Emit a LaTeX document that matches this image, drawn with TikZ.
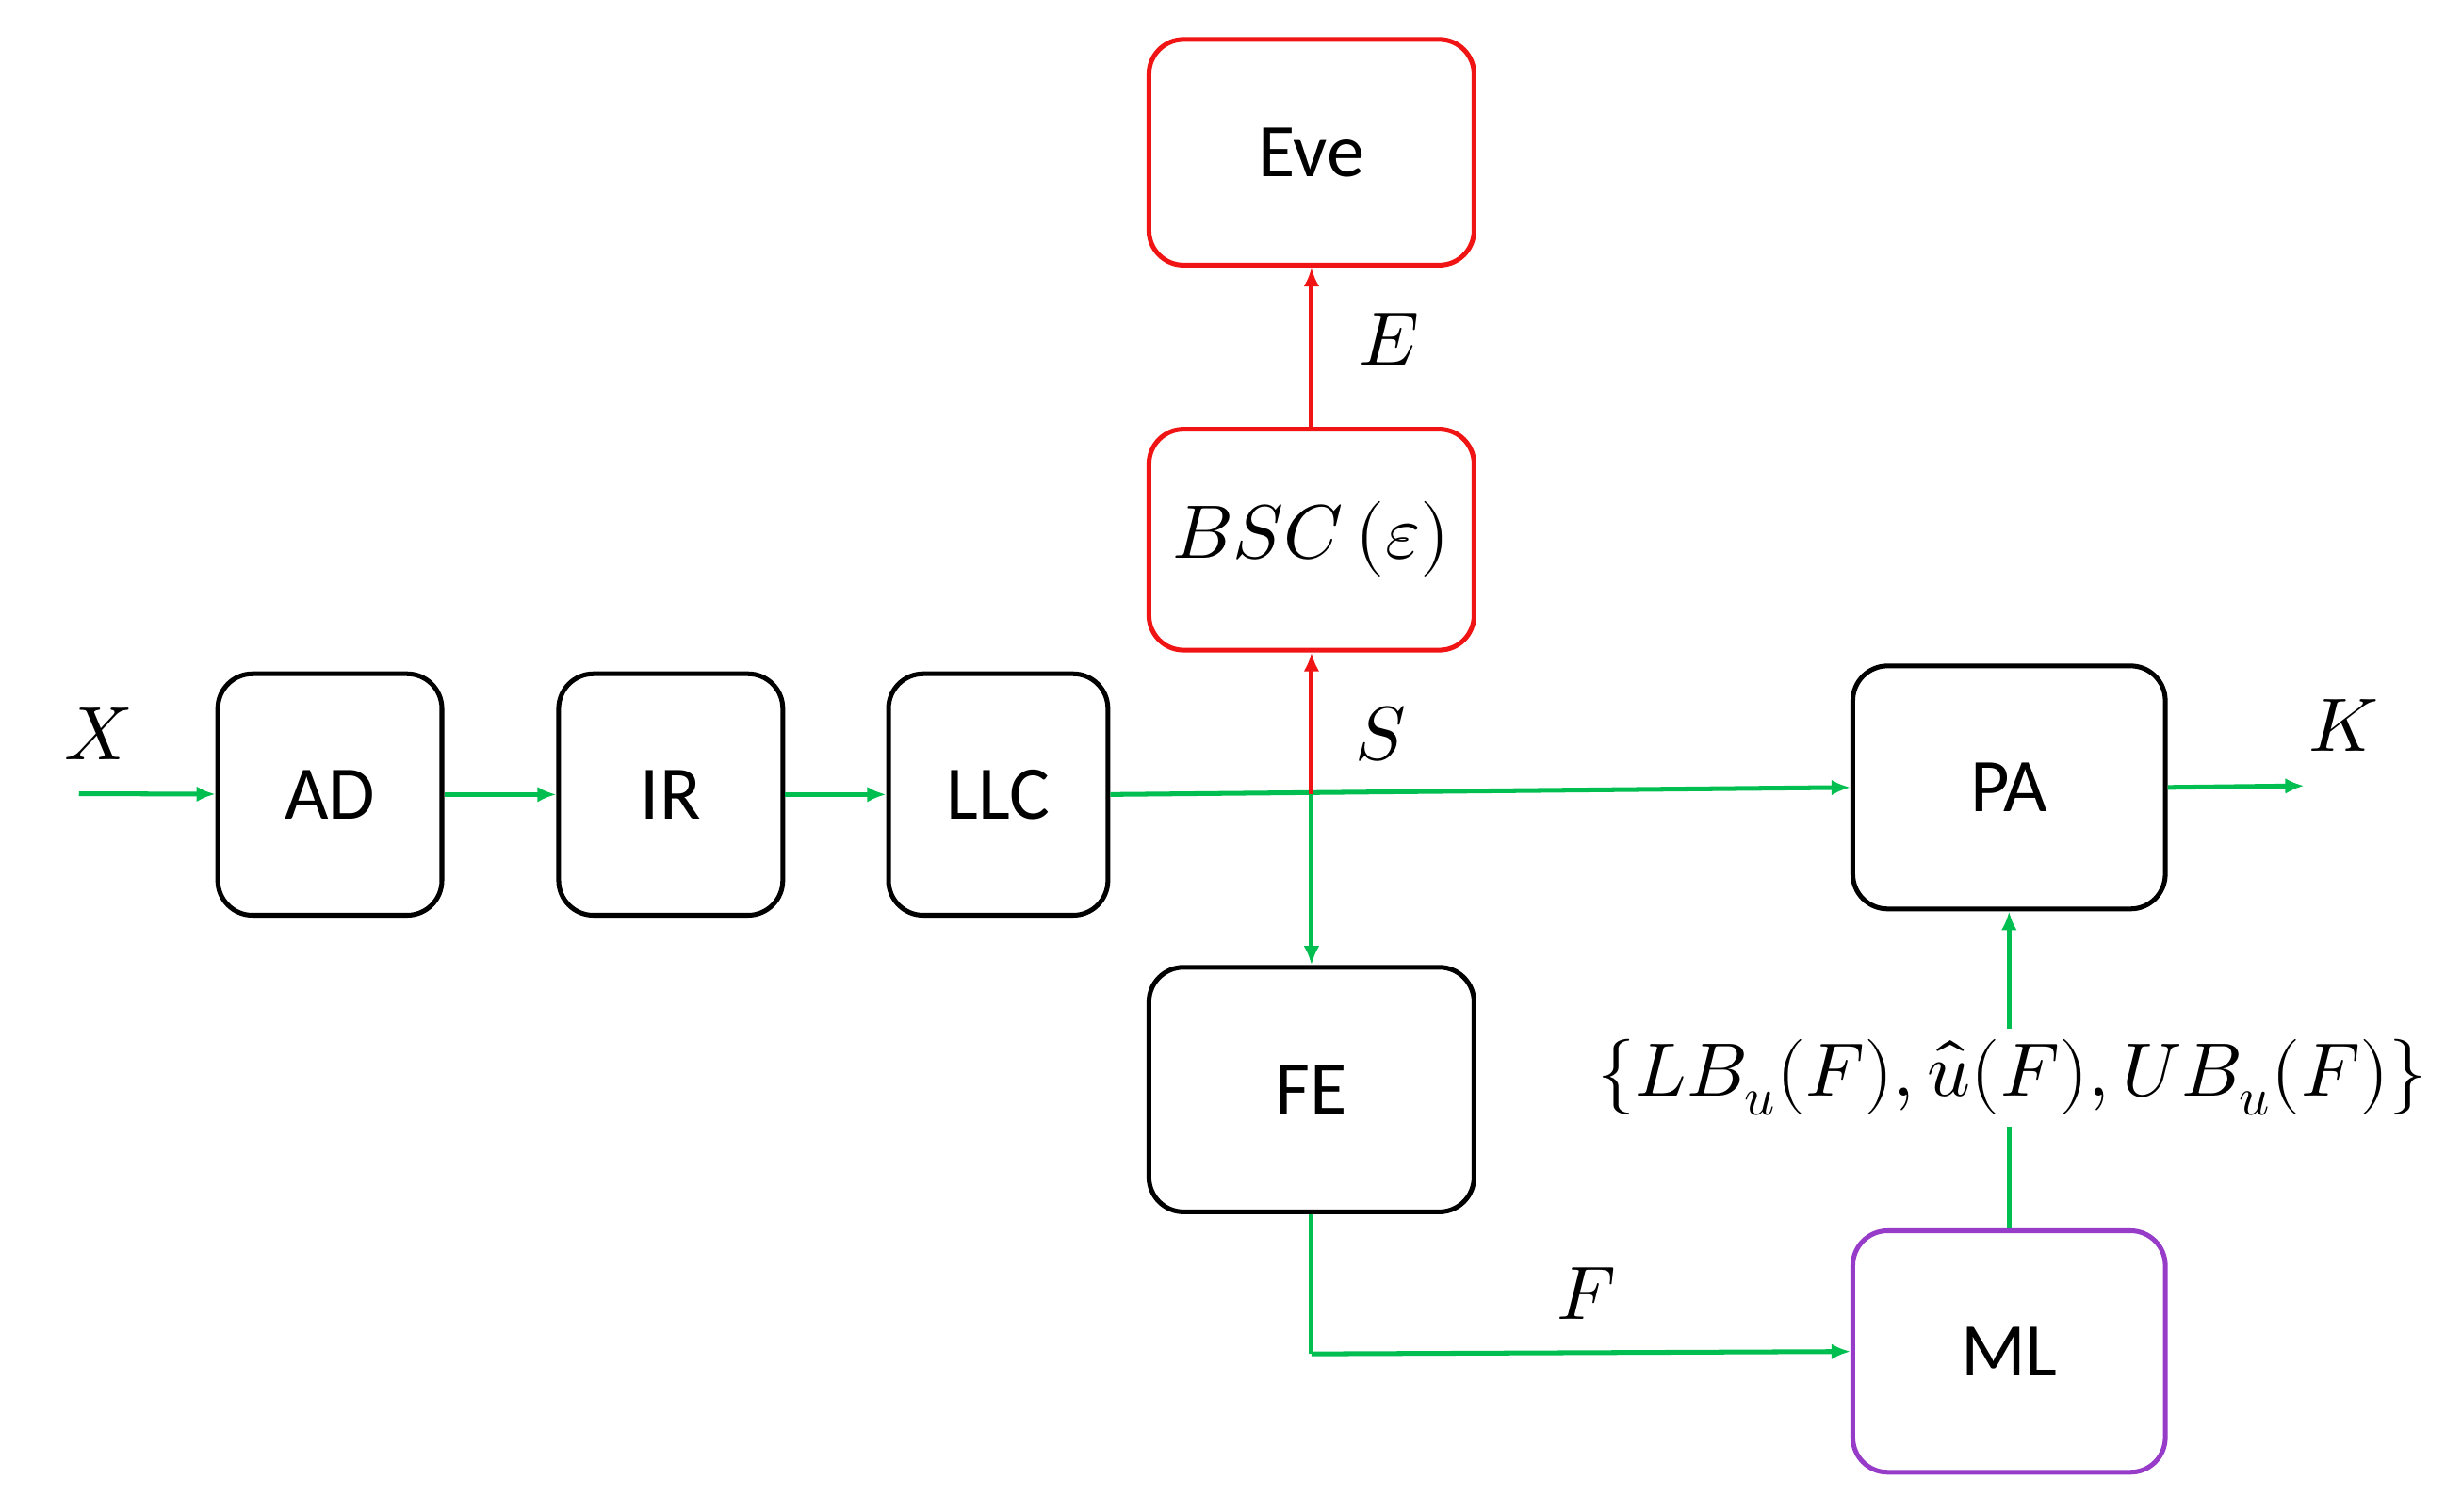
\documentclass[tikz,border=0pt]{standalone}
\usepackage{fontspec}
\setmainfont{Carlito}
\usepackage{unicode-math}
\setmathfont{Latin Modern Math}
\usetikzlibrary{arrows.meta}
\definecolor{grn}{RGB}{0,190,80}
\definecolor{rd}{RGB}{240,20,20}
\definecolor{pur}{RGB}{150,60,200}
\tikzset{
 box/.style={draw=black,line width=1.5pt,rounded corners=11pt,font=\fontsize{24}{28}\selectfont},
 ga/.style={draw=grn,line width=1.5pt,-{Latex[length=6pt,width=5pt]}},
 ra/.style={draw=rd,line width=1.5pt,-{Latex[length=6pt,width=5pt]}},
 lab/.style={font=\fontsize{24}{28}\selectfont}
}
\begin{document}
\begin{tikzpicture}[x=0.5pt,y=-0.5pt]
\useasboundingbox (0,0) rectangle (1560,958);
\newcommand\bx[6]{\node[box,#6,minimum width={(#4-#2)*0.5pt},minimum height={(#5-#3)*0.5pt}] (#1) at ({(#2+#4)/2},{(#3+#5)/2}) {};}
\node[box,draw=rd,minimum width=103pt,minimum height=71.5pt] (eve) at (831,96.5) {Eve};
\node[box,draw=rd,minimum width=103pt,minimum height=70pt] (bsc) at (831,342) {$BSC\,(\varepsilon)$};
\node[box,minimum width=71pt,minimum height=76.5pt] (ad) at (209,503.5) {AD};
\node[box,minimum width=71pt,minimum height=76.5pt] (ir) at (425,503.5) {IR};
\node[box,minimum width=69.5pt,minimum height=76.5pt] (llc) at (632.5,503.5) {LLC};
\node[box,minimum width=99pt,minimum height=77pt] (pa) at (1273,499) {PA};
\node[box,minimum width=103pt,minimum height=77.5pt] (fe) at (831,690.5) {FE};
\node[box,draw=pur,minimum width=99pt,minimum height=76.5pt] (ml) at (1273,856.5) {ML};
\coordinate (xin) at (50,503);
\coordinate (j) at (831,503);
\coordinate (kout) at (1460,498);
\coordinate (c) at (831,858);
\draw[ga] (xin) -- (ad);
\draw[ga] (ad) -- (ir);
\draw[ga] (ir) -- (llc);
\draw[ga] (llc.east) -- (pa.west);
\draw[ga] (pa.east) -- (kout);
\draw[ga] (j) -- (fe.north);
\draw[ra] (j) -- (bsc.south);
\draw[ra] (bsc) -- (eve);
\draw[grn,line width=1.5pt] (fe.south) -- (c);
\draw[ga] (c) -- (ml.west);
\draw[ga] (ml.north) -- (pa.south);
\node[lab] (xl) at (62,465) {$X$};
\node[lab] (sl) at (875,465) {$S$};
\node[lab] (el) at (880,215) {$E$};
\node[lab] (kl) at (1485,460) {$K$};
\node[lab] (fl) at (1005,820) {$F$};
\node[lab,fill=white,inner xsep=0pt] (ul) at (1275,683) {$\{LB_u(F),\hat{u}(F),UB_u(F)\}$};
\end{tikzpicture}
\end{document}
